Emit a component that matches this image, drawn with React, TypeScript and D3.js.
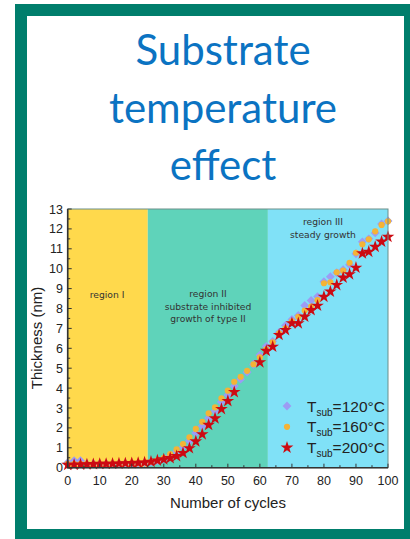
import React from 'react';
import * as d3 from 'd3';

// cycles sampled every 2
const cycles = d3.range(0, 101, 2);

// thickness (nm), T_sub = 120 °C
const t120 = [
  0.25, 0.35, 0.35, 0.2, 0.2, 0.2, 0.2, 0.2, 0.21, 0.22, 0.22, 0.23, 0.24,
  0.28, 0.35, 0.45, 0.62, 0.82, 1.05, 1.35, 1.75, 2.1, 2.5, 2.85, 3.3, 3.65,
  4.1, 4.45, 4.8, 5.2, 5.66, 6.1, 6.35, 6.8, 7.15, 7.45, 7.65, 8.15, 8.4,
  8.6, 9.35, 9.6, 9.8, 9.95, 10.2, 10.75, 11.35, 11.5, 11.8, 12.25, 12.4,
];
// T_sub = 160 °C
const t160 = [
  0.2, 0.2, 0.2, 0.2, 0.2, 0.21, 0.21, 0.22, 0.22, 0.23, 0.24, 0.25, 0.26,
  0.3, 0.38, 0.5, 0.68, 0.92, 1.19, 1.53, 1.95, 2.31, 2.73, 3.03, 3.49, 3.87,
  4.32, 4.57, 4.87, 5.2, 5.55, 5.95, 6.3, 6.75, 7.0, 7.35, 7.58, 7.9, 8.1,
  8.42, 9.27, 9.32, 9.82, 9.9, 10.3, 10.8, 11.23, 11.48, 11.88, 12.2, 12.38,
];
// T_sub = 200 °C (no points read at 54-58)
const t200 = [
  0.14, 0.15, 0.16, 0.17, 0.18, 0.19, 0.19, 0.2, 0.21, 0.22, 0.23, 0.24, 0.26,
  0.3, 0.36, 0.42, 0.48, 0.58, 0.74, 0.98, 1.32, 1.68, 2.15, 2.48, 2.95, 3.35,
  3.8, null, null, null, 5.3, 5.87, 6.08, 6.67, 6.92, 7.26, 7.26, 7.59, 7.92,
  8.14, 8.59, 8.85, 9.18, 9.55, 9.72, 10.05, 10.77, 10.85, 11.1, 11.36, 11.6,
];

const regions = [
  { from: 0, to: 25, color: '#FFD94C' },
  { from: 25, to: 62.5, color: '#5FD3BA' },
  { from: 62.5, to: 100, color: '#80E1F7' },
];
const xTicks = d3.range(0, 101, 10);
const yTicks = d3.range(0, 14, 1);
const legendTemps = ['120', '160', '200'];

const W = 410;
const H = 539;
const m = { left: 67.7, right: 388, top: 209, bottom: 467.7 };

const starPath = d3.symbol().type(d3.symbolStar).size(50)() as string;
const diamondPath = d3.symbol().type(d3.symbolDiamond2).size(50)() as string;
const circlePath = d3.symbol().type(d3.symbolCircle).size(30)() as string;

const COL120 = '#9C9CF4';
const COL160 = '#F4B336';
const COL200 = '#CC0A12';

export default function App() {
  const x = d3.scaleLinear().domain([0, 100]).range([m.left, m.right]);
  const y = d3.scaleLinear().domain([0, 13]).range([m.bottom, m.top]);

  const series = [
    { vals: t120, path: diamondPath, color: COL120 },
    { vals: t160, path: circlePath, color: COL160 },
    { vals: t200, path: starPath, color: COL200 },
  ];

  const tickFont = { fontFamily: 'Liberation Sans, Arial, sans-serif', fontSize: 12.5, fill: '#222' };
  const regFont = { fontFamily: 'DejaVu Sans, Verdana, sans-serif', fontSize: 9.2, fill: '#333' };

  return (
    <svg width={W} height={H} style={{ position: 'absolute', left: 0, top: 0 }}>
      <rect x={0} y={0} width={W} height={H} fill="#fff" />
      {/* green frame */}
      <rect x={21} y={10} width={389} height={525} fill="none" stroke="#007E6C" strokeWidth={12} />

      {/* title */}
      <g fontFamily="Lato, 'Open Sans', sans-serif" fontSize={42} fill="#0B73C2" textAnchor="middle">
        <text x={223} y={65}>Substrate</text>
        <text x={223} y={123}>temperature</text>
        <text x={223} y={180}>effect</text>
      </g>

      {/* regions */}
      {regions.map((r, i) => (
        <rect key={i} x={x(r.from)} y={m.top} width={x(r.to) - x(r.from)} height={m.bottom - m.top} fill={r.color} />
      ))}

      <g {...regFont} textAnchor="middle">
        <text x={107} y={298}>region I</text>
        <text x={208} y={297}>region II</text>
        <text x={208} y={309.5}>substrate inhibited</text>
        <text x={208} y={322}>growth of type II</text>
        <text x={323} y={225}>region III</text>
        <text x={323} y={237.5}>steady growth</text>
      </g>

      {/* data */}
      {series.map((s, si) => (
        <g key={si} fill={s.color}>
          {cycles.map((c, i) =>
            s.vals[i] == null ? null : (
              <path key={i} d={s.path} transform={`translate(${x(c)},${y(s.vals[i] as number)})`} />
            )
          )}
        </g>
      ))}

      {/* axes frame */}
      <rect x={m.left} y={m.top} width={m.right - m.left} height={m.bottom - m.top} fill="none" stroke="#6d8f8a" strokeWidth={1} />
      <line x1={m.left} x2={m.left} y1={m.top} y2={m.bottom + 0.7} stroke="#333" strokeWidth={1.6} />
      <line x1={m.left} x2={m.right} y1={m.bottom} y2={m.bottom} stroke="#333" strokeWidth={1.6} />

      {/* y ticks */}
      {d3.range(0, 13.01, 0.5).map((v) => (
        <line key={v} x1={m.left} x2={m.left + (v % 1 === 0 ? 4 : 2.5)} y1={y(v)} y2={y(v)} stroke="#333" strokeWidth={1} />
      ))}
      {yTicks.map((v) => (
        <text key={v} x={63} y={y(v) + 4.5} textAnchor="end" {...tickFont}>{v}</text>
      ))}

      {/* x ticks */}
      {d3.range(0, 100.01, 5).map((v) => (
        <line key={v} x1={x(v)} x2={x(v)} y1={m.bottom} y2={m.bottom - (v % 10 === 0 ? 4 : 2.5)} stroke="#333" strokeWidth={1} />
      ))}
      {xTicks.map((v) => (
        <text key={v} x={x(v)} y={484.5} textAnchor="middle" {...tickFont}>{v}</text>
      ))}

      {/* axis titles */}
      <text x={228} y={508} textAnchor="middle" fontFamily="Liberation Sans, Arial, sans-serif" fontSize={15} fill="#222">Number of cycles</text>
      <text transform={`translate(42,338) rotate(-90)`} textAnchor="middle" fontFamily="Liberation Sans, Arial, sans-serif" fontSize={15} fill="#222">Thickness (nm)</text>

      {/* legend */}
      {legendTemps.map((t, i) => {
        const cy = 406 + i * 20.8;
        return (
          <g key={t}>
            <path d={series[i].path} fill={series[i].color} transform={`translate(287,${cy})`} />
            <text x={307} y={cy + 5.5} fontFamily="Liberation Sans, Arial, sans-serif" fontSize={15.5} fill="#222">
              T<tspan fontSize={10} dy={4}>sub</tspan><tspan dy={-4}>={t}°C</tspan>
            </text>
          </g>
        );
      })}
    </svg>
  );
}
